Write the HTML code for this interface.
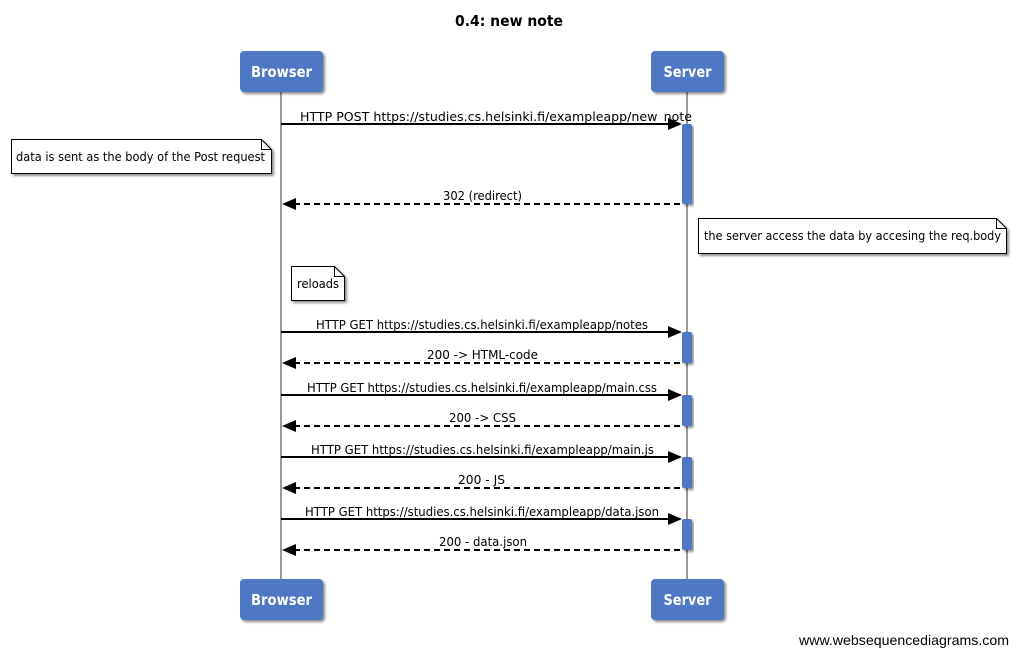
<!DOCTYPE html>
<html><head><meta charset="utf-8"><style>
html,body{margin:0;padding:0;background:#fff;}
svg{display:block;}
text{font-family:"DejaVu Sans","Liberation Sans",sans-serif;}
</style></head><body>
<svg width="1019" height="656" viewBox="0 0 1019 656" xmlns="http://www.w3.org/2000/svg">
<defs>
<filter id="sh" x="-20%" y="-20%" width="140%" height="140%"><feDropShadow dx="2" dy="2" stdDeviation="1.2" flood-color="#000" flood-opacity="0.45"/></filter>
</defs>
<rect width="1019" height="656" fill="#fff"/>
<text x="509" y="26" font-size="15" font-weight="bold" text-anchor="middle" textLength="108" lengthAdjust="spacingAndGlyphs">0.4: new note</text>

<!-- lifelines -->
<line x1="281" y1="92" x2="281" y2="579" stroke="#999" stroke-width="2"/>
<line x1="687" y1="92" x2="687" y2="579" stroke="#999" stroke-width="2"/>

<!-- participant boxes -->
<g filter="url(#sh)" fill="#4f78c4">
<rect x="240" y="51" width="83" height="41" rx="4"/>
<rect x="651" y="51" width="73" height="41" rx="4"/>
<rect x="240" y="579" width="83" height="41" rx="4"/>
<rect x="651" y="579" width="73" height="41" rx="4"/>
</g>
<g fill="#fff" font-size="15" font-weight="bold" text-anchor="middle">
<text x="281.5" y="77" textLength="61" lengthAdjust="spacingAndGlyphs">Browser</text>
<text x="687.5" y="77" textLength="48" lengthAdjust="spacingAndGlyphs">Server</text>
<text x="281.5" y="605" textLength="61" lengthAdjust="spacingAndGlyphs">Browser</text>
<text x="687.5" y="605" textLength="48" lengthAdjust="spacingAndGlyphs">Server</text>
</g>

<!-- activations -->
<g fill="#4f78c4" filter="url(#sh)">
<rect x="682" y="124" width="10" height="80" rx="2"/>
<rect x="682" y="332" width="10" height="31" rx="2"/>
<rect x="682" y="395" width="10" height="31" rx="2"/>
<rect x="682" y="457" width="10" height="31" rx="2"/>
<rect x="682" y="519" width="10" height="31" rx="2"/>
</g>

<!-- messages -->
<g stroke="#000" stroke-width="2">
<line x1="281" y1="124" x2="670" y2="124"/>
<line x1="294" y1="204" x2="681" y2="204" stroke-dasharray="6,4"/>
<line x1="281" y1="332" x2="670" y2="332"/>
<line x1="294" y1="363" x2="681" y2="363" stroke-dasharray="6,4"/>
<line x1="281" y1="395" x2="670" y2="395"/>
<line x1="294" y1="426" x2="681" y2="426" stroke-dasharray="6,4"/>
<line x1="281" y1="457" x2="670" y2="457"/>
<line x1="294" y1="488" x2="681" y2="488" stroke-dasharray="6,4"/>
<line x1="281" y1="519" x2="670" y2="519"/>
<line x1="294" y1="550" x2="681" y2="550" stroke-dasharray="6,4"/>
</g>
<g fill="#000">
<polygon points="668,118 682,124 668,130"/>
<polygon points="296,198 282,204 296,210"/>
<polygon points="668,326 682,332 668,338"/>
<polygon points="296,357 282,363 296,369"/>
<polygon points="668,389 682,395 668,401"/>
<polygon points="296,420 282,426 296,432"/>
<polygon points="668,451 682,457 668,463"/>
<polygon points="296,482 282,488 296,494"/>
<polygon points="668,513 682,519 668,525"/>
<polygon points="296,544 282,550 296,556"/>
</g>
<g font-size="12" fill="#000" lengthAdjust="spacingAndGlyphs">
<text x="300" y="121" textLength="392" lengthAdjust="spacingAndGlyphs">HTTP POST https://studies.cs.helsinki.fi/exampleapp/new_note</text>
<text x="443" y="200" textLength="79" lengthAdjust="spacingAndGlyphs">302 (redirect)</text>
<text x="316" y="329" textLength="332" lengthAdjust="spacingAndGlyphs">HTTP GET https://studies.cs.helsinki.fi/exampleapp/notes</text>
<text x="427" y="359" textLength="111" lengthAdjust="spacingAndGlyphs">200 -&gt; HTML-code</text>
<text x="307" y="392" textLength="350" lengthAdjust="spacingAndGlyphs">HTTP GET https://studies.cs.helsinki.fi/exampleapp/main.css</text>
<text x="449" y="422" textLength="67" lengthAdjust="spacingAndGlyphs">200 -&gt; CSS</text>
<text x="311" y="454" textLength="343" lengthAdjust="spacingAndGlyphs">HTTP GET https://studies.cs.helsinki.fi/exampleapp/main.js</text>
<text x="458" y="484" textLength="47" lengthAdjust="spacingAndGlyphs">200 - JS</text>
<text x="305" y="516" textLength="354" lengthAdjust="spacingAndGlyphs">HTTP GET https://studies.cs.helsinki.fi/exampleapp/data.json</text>
<text x="439" y="546" textLength="88" lengthAdjust="spacingAndGlyphs">200 - data.json</text>
</g>

<!-- notes -->
<g fill="#fff" stroke="#000" stroke-width="1" filter="url(#sh)">
<path d="M11.5,139.5 H261.5 L271.5,149.5 V173.5 H11.5 Z"/>
<path d="M698.5,218.5 H996.5 L1006.5,228.5 V253.5 H698.5 Z"/>
<path d="M291.5,266.5 H334.5 L344.5,276.5 V300.5 H291.5 Z"/>
</g>
<g fill="none" stroke="#000" stroke-width="1">
<path d="M261.5,139.5 V149.5 H271.5"/>
<path d="M996.5,218.5 V228.5 H1006.5"/>
<path d="M334.5,266.5 V276.5 H344.5"/>
</g>
<g font-size="12" fill="#000">
<text x="16" y="161" textLength="249" lengthAdjust="spacingAndGlyphs">data is sent as the body of the Post request</text>
<text x="704" y="240" textLength="297" lengthAdjust="spacingAndGlyphs">the server access the data by accesing the req.body</text>
<text x="297" y="288" textLength="42" lengthAdjust="spacingAndGlyphs">reloads</text>
</g>

<text x="1009" y="645" font-size="14" text-anchor="end" fill="#000" style="font-family:'Liberation Sans',sans-serif" textLength="210" lengthAdjust="spacingAndGlyphs">www.websequencediagrams.com</text>
</svg>
</body></html>
